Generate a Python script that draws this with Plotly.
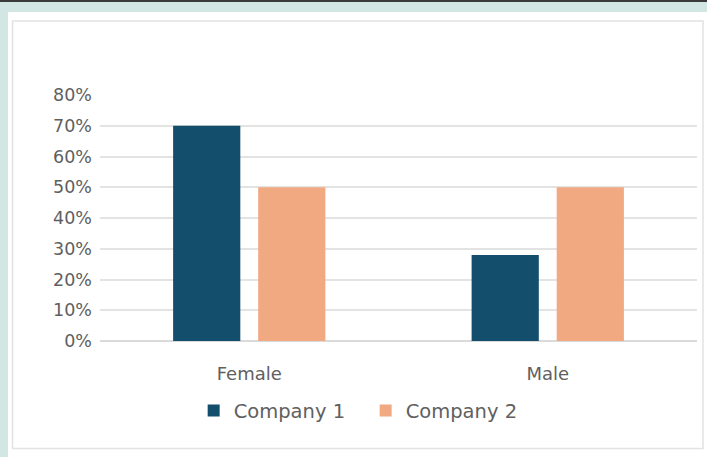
import plotly.graph_objects as go

categories = ["Female", "Male"]
company1 = [0.70, 0.28]
company2 = [0.50, 0.50]
tick_vals = [0, 0.1, 0.2, 0.3, 0.4, 0.5, 0.6, 0.7, 0.8]
tick_text = ["0%", "10%", "20%", "30%", "40%", "50%", "60%", "70%", "80%"]

W, H = 707, 457
L, R, T, B = 100, 10, 95, 116
FONT = "'DejaVu Sans', sans-serif"
GRAY = "#606060"

fig = go.Figure()
fig.add_trace(go.Bar(name="Company 1", x=categories, y=company1,
                     marker=dict(color="#134f6d", line=dict(width=0))))
fig.add_trace(go.Bar(name="Company 2", x=categories, y=company2,
                     marker=dict(color="#f1a982", line=dict(width=0))))


def px_rect(x0, y0, x1, y1, **kw):
    # page pixel coordinates -> paper coordinates of the plot area
    pw, ph = W - L - R, H - T - B
    return dict(type="rect", xref="paper", yref="paper",
                x0=(x0 - L) / pw, x1=(x1 - L) / pw,
                y0=(H - B - y1) / ph, y1=(H - B - y0) / ph, layer="below", **kw)


shapes = [
    px_rect(8, 12, 707, 457, fillcolor="white", line_width=0),
    px_rect(12.5, 21, 703, 448.5, fillcolor="rgba(0,0,0,0)",
            line=dict(color="#e2e2e2", width=1.5)),
    px_rect(0, 0, 707, 2, fillcolor="#3a3a3a", line_width=0),
]

fig.update_layout(
    width=W, height=H,
    margin=dict(l=L, r=R, t=T, b=B),
    paper_bgcolor="#d2e6e4",
    plot_bgcolor="white",
    barmode="group",
    bargap=0.43,
    bargroupgap=0.21,
    font=dict(family=FONT, size=17, color=GRAY),
    shapes=shapes,
    showlegend=True,
    legend=dict(orientation="h", x=0.445, xanchor="center", y=-0.205, yanchor="top",
                font=dict(size=19.5, color=GRAY), bgcolor="rgba(0,0,0,0)",
                itemwidth=30, entrywidth=127, entrywidthmode="pixels",
                traceorder="normal"),
    xaxis=dict(showgrid=False, showline=False, ticks="", tickfont=dict(size=18, color=GRAY),
               ticklabelstandoff=20),
    yaxis=dict(range=[0, 0.8], tickvals=tick_vals, ticktext=tick_text,
               showgrid=True, gridcolor="#e3e3e3", gridwidth=1.8,
               zeroline=True, zerolinecolor="#dadada", zerolinewidth=1.8,
               showline=False, ticks="", tickfont=dict(size=17.5, color=GRAY),
               ticklabelstandoff=7),
)

fig.write_html("out.html")
